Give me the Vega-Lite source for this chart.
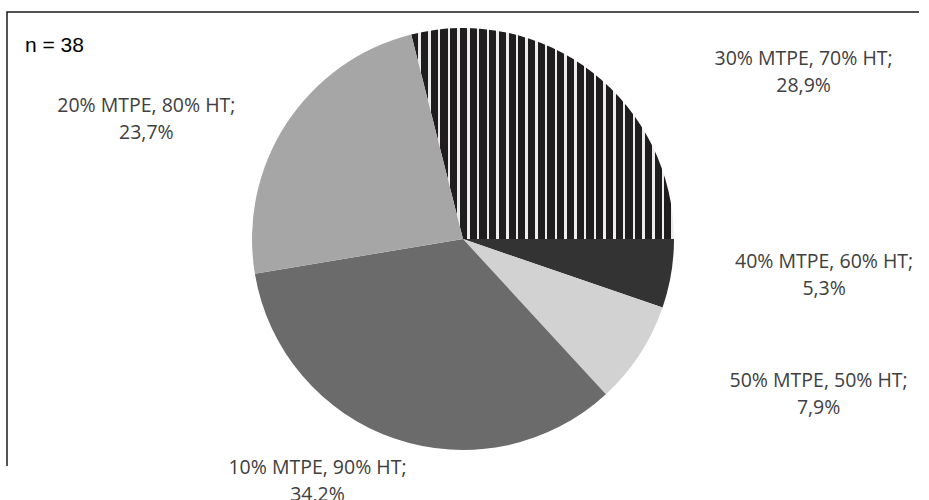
{
  "$schema": "https://vega.github.io/schema/vega-lite/v6.json",
  "width": 912,
  "height": 454,
  "autosize": "none",
  "padding": {"left": 7, "top": 12, "right": 10, "bottom": 34},
  "background": "white",
  "view": {"stroke": "#1a1a1a", "strokeWidth": 1.5, "strokeDash": [912, 1366, 454, 10]},
  "title": {"text": "n = 38", "baseline": "alphabetic", "anchor": "start", "frame": "group", "orient": "top", "offset": -61, "dx": 18, "font": "Liberation Sans", "fontSize": 21, "fontWeight": "normal", "color": "#000000"},
  "data": {"values": [
    {"cat": "30% MTPE, 70% HT", "count": 11, "ord": 1, "label": "30% MTPE, 70% HT;\n28,9%"},
    {"cat": "40% MTPE, 60% HT", "count": 2, "ord": 2, "label": "40% MTPE, 60% HT;\n5,3%"},
    {"cat": "50% MTPE, 50% HT", "count": 3, "ord": 3, "label": "50% MTPE, 50% HT;\n7,9%"},
    {"cat": "10% MTPE, 90% HT", "count": 13, "ord": 4, "label": "10% MTPE, 90% HT;\n34,2%"},
    {"cat": "20% MTPE, 80% HT", "count": 9, "ord": 5, "label": "20% MTPE, 80% HT;\n23,7%"}
  ]},
  "encoding": {
    "theta": {"field": "count", "type": "quantitative", "stack": true, "scale": {"range": [-0.248, 6.0352]}},
    "order": {"field": "ord", "type": "quantitative"}
  },
  "layer": [
    {
      "mark": {"type": "arc", "outerRadius": 211},
      "encoding": {
        "color": {
          "condition": {"test": "datum.ord == 1", "value": {"gradient": "linear", "x1": 0, "y1": 0, "x2": 1, "y2": 0, "stops": [
            {"offset": 0.0, "color": "#1f1d1d"}, {"offset": 0.0274, "color": "#1f1d1d"}, {"offset": 0.0274, "color": "#ececec"}, {"offset": 0.0370, "color": "#ececec"},
            {"offset": 0.0370, "color": "#1f1d1d"}, {"offset": 0.0644, "color": "#1f1d1d"}, {"offset": 0.0644, "color": "#ececec"}, {"offset": 0.0741, "color": "#ececec"},
            {"offset": 0.0741, "color": "#1f1d1d"}, {"offset": 0.1015, "color": "#1f1d1d"}, {"offset": 0.1015, "color": "#ececec"}, {"offset": 0.1111, "color": "#ececec"},
            {"offset": 0.1111, "color": "#1f1d1d"}, {"offset": 0.1385, "color": "#1f1d1d"}, {"offset": 0.1385, "color": "#ececec"}, {"offset": 0.1481, "color": "#ececec"},
            {"offset": 0.1481, "color": "#1f1d1d"}, {"offset": 0.1756, "color": "#1f1d1d"}, {"offset": 0.1756, "color": "#ececec"}, {"offset": 0.1852, "color": "#ececec"},
            {"offset": 0.1852, "color": "#1f1d1d"}, {"offset": 0.2126, "color": "#1f1d1d"}, {"offset": 0.2126, "color": "#ececec"}, {"offset": 0.2222, "color": "#ececec"},
            {"offset": 0.2222, "color": "#1f1d1d"}, {"offset": 0.2496, "color": "#1f1d1d"}, {"offset": 0.2496, "color": "#ececec"}, {"offset": 0.2593, "color": "#ececec"},
            {"offset": 0.2593, "color": "#1f1d1d"}, {"offset": 0.2867, "color": "#1f1d1d"}, {"offset": 0.2867, "color": "#ececec"}, {"offset": 0.2963, "color": "#ececec"},
            {"offset": 0.2963, "color": "#1f1d1d"}, {"offset": 0.3237, "color": "#1f1d1d"}, {"offset": 0.3237, "color": "#ececec"}, {"offset": 0.3333, "color": "#ececec"},
            {"offset": 0.3333, "color": "#1f1d1d"}, {"offset": 0.3607, "color": "#1f1d1d"}, {"offset": 0.3607, "color": "#ececec"}, {"offset": 0.3704, "color": "#ececec"},
            {"offset": 0.3704, "color": "#1f1d1d"}, {"offset": 0.3978, "color": "#1f1d1d"}, {"offset": 0.3978, "color": "#ececec"}, {"offset": 0.4074, "color": "#ececec"},
            {"offset": 0.4074, "color": "#1f1d1d"}, {"offset": 0.4348, "color": "#1f1d1d"}, {"offset": 0.4348, "color": "#ececec"}, {"offset": 0.4444, "color": "#ececec"},
            {"offset": 0.4444, "color": "#1f1d1d"}, {"offset": 0.4719, "color": "#1f1d1d"}, {"offset": 0.4719, "color": "#ececec"}, {"offset": 0.4815, "color": "#ececec"},
            {"offset": 0.4815, "color": "#1f1d1d"}, {"offset": 0.5089, "color": "#1f1d1d"}, {"offset": 0.5089, "color": "#ececec"}, {"offset": 0.5185, "color": "#ececec"},
            {"offset": 0.5185, "color": "#1f1d1d"}, {"offset": 0.5459, "color": "#1f1d1d"}, {"offset": 0.5459, "color": "#ececec"}, {"offset": 0.5556, "color": "#ececec"},
            {"offset": 0.5556, "color": "#1f1d1d"}, {"offset": 0.5830, "color": "#1f1d1d"}, {"offset": 0.5830, "color": "#ececec"}, {"offset": 0.5926, "color": "#ececec"},
            {"offset": 0.5926, "color": "#1f1d1d"}, {"offset": 0.6200, "color": "#1f1d1d"}, {"offset": 0.6200, "color": "#ececec"}, {"offset": 0.6296, "color": "#ececec"},
            {"offset": 0.6296, "color": "#1f1d1d"}, {"offset": 0.6570, "color": "#1f1d1d"}, {"offset": 0.6570, "color": "#ececec"}, {"offset": 0.6667, "color": "#ececec"},
            {"offset": 0.6667, "color": "#1f1d1d"}, {"offset": 0.6941, "color": "#1f1d1d"}, {"offset": 0.6941, "color": "#ececec"}, {"offset": 0.7037, "color": "#ececec"},
            {"offset": 0.7037, "color": "#1f1d1d"}, {"offset": 0.7311, "color": "#1f1d1d"}, {"offset": 0.7311, "color": "#ececec"}, {"offset": 0.7407, "color": "#ececec"},
            {"offset": 0.7407, "color": "#1f1d1d"}, {"offset": 0.7681, "color": "#1f1d1d"}, {"offset": 0.7681, "color": "#ececec"}, {"offset": 0.7778, "color": "#ececec"},
            {"offset": 0.7778, "color": "#1f1d1d"}, {"offset": 0.8052, "color": "#1f1d1d"}, {"offset": 0.8052, "color": "#ececec"}, {"offset": 0.8148, "color": "#ececec"},
            {"offset": 0.8148, "color": "#1f1d1d"}, {"offset": 0.8422, "color": "#1f1d1d"}, {"offset": 0.8422, "color": "#ececec"}, {"offset": 0.8519, "color": "#ececec"},
            {"offset": 0.8519, "color": "#1f1d1d"}, {"offset": 0.8793, "color": "#1f1d1d"}, {"offset": 0.8793, "color": "#ececec"}, {"offset": 0.8889, "color": "#ececec"},
            {"offset": 0.8889, "color": "#1f1d1d"}, {"offset": 0.9163, "color": "#1f1d1d"}, {"offset": 0.9163, "color": "#ececec"}, {"offset": 0.9259, "color": "#ececec"},
            {"offset": 0.9259, "color": "#1f1d1d"}, {"offset": 0.9533, "color": "#1f1d1d"}, {"offset": 0.9533, "color": "#ececec"}, {"offset": 0.9630, "color": "#ececec"},
            {"offset": 0.9630, "color": "#1f1d1d"}, {"offset": 0.9904, "color": "#1f1d1d"}, {"offset": 0.9904, "color": "#ececec"}, {"offset": 1.0, "color": "#ececec"}
          ]}},
          "field": "cat",
          "type": "nominal",
          "scale": {"domain": ["30% MTPE, 70% HT", "40% MTPE, 60% HT", "50% MTPE, 50% HT", "10% MTPE, 90% HT", "20% MTPE, 80% HT"], "range": ["#1f1d1d", "#333333", "#d2d2d2", "#6b6b6b", "#a6a6a6"]},
          "legend": null
        }
      }
    },
    {
      "mark": {"type": "text", "font": "Open Sans", "fontSize": 19.5, "fill": "#404040", "align": "center", "baseline": "middle", "lineBreak": "\n", "lineHeight": 27, "radius": 211, "dx": 211, "dy": -13},
      "encoding": {"text": {"condition": {"test": "datum.ord == 1", "field": "label"}, "value": ""}}
    },
    {
      "mark": {"type": "text", "font": "Open Sans", "fontSize": 19.5, "fill": "#404040", "align": "center", "baseline": "middle", "lineBreak": "\n", "lineHeight": 27, "radius": 211, "dx": 153, "dy": -12},
      "encoding": {"text": {"condition": {"test": "datum.ord == 2", "field": "label"}, "value": ""}}
    },
    {
      "mark": {"type": "text", "font": "Open Sans", "fontSize": 19.5, "fill": "#404040", "align": "center", "baseline": "middle", "lineBreak": "\n", "lineHeight": 27, "radius": 211, "dx": 179, "dy": 27},
      "encoding": {"text": {"condition": {"test": "datum.ord == 3", "field": "label"}, "value": ""}}
    },
    {
      "mark": {"type": "text", "font": "Open Sans", "fontSize": 19.5, "fill": "#404040", "align": "center", "baseline": "middle", "lineBreak": "\n", "lineHeight": 27, "radius": 211, "dx": -77, "dy": 29},
      "encoding": {"text": {"condition": {"test": "datum.ord == 4", "field": "label"}, "value": ""}}
    },
    {
      "mark": {"type": "text", "font": "Open Sans", "fontSize": 19.5, "fill": "#404040", "align": "center", "baseline": "middle", "lineBreak": "\n", "lineHeight": 27, "radius": 211, "dx": -140, "dy": -18},
      "encoding": {"text": {"condition": {"test": "datum.ord == 5", "field": "label"}, "value": ""}}
    }
  ]
}
